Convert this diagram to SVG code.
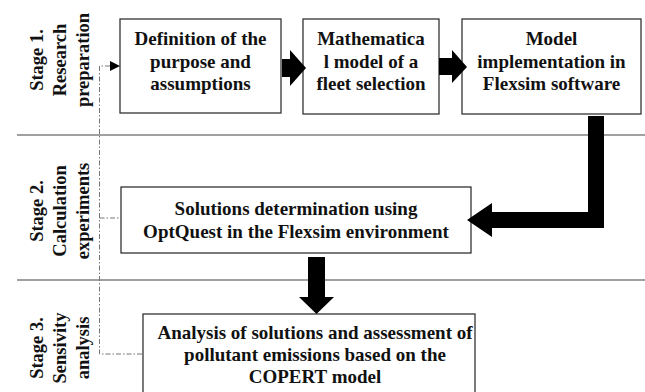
<svg xmlns="http://www.w3.org/2000/svg" width="645" height="392" viewBox="0 0 645 392">
<style>
.box{fill:#fff;stroke:#333;stroke-width:1.3}
.t{font-family:"Liberation Serif","Times New Roman",serif;font-weight:bold;font-size:19px;fill:#111;text-anchor:middle}
.lab{font-size:18.5px}
.sep{stroke:#808080;stroke-width:1.5}
.dash{fill:none;stroke:#777;stroke-width:1;stroke-dasharray:5 2 1.5 2}
.arr{fill:#000}
</style>
<rect width="645" height="392" fill="#fff"/>
<g id="separators">
<line class="sep" x1="17" y1="135" x2="645" y2="135"/>
<line class="sep" x1="17" y1="280" x2="645" y2="280"/>
</g>
<g id="stage1-label" class="t lab">
<text transform="translate(43,60) rotate(-90)">Stage 1.</text>
<text transform="translate(66,60) rotate(-90)">Research</text>
<text transform="translate(89,60) rotate(-90)">preparation</text>
</g>
<g id="stage2-label" class="t lab">
<text transform="translate(43,211) rotate(-90)">Stage 2.</text>
<text transform="translate(66,211) rotate(-90)">Calculation</text>
<text transform="translate(89,211) rotate(-90)">experiments</text>
</g>
<g id="stage3-label" class="t lab">
<text transform="translate(43,348) rotate(-90)">Stage 3.</text>
<text transform="translate(66,348) rotate(-90)">Sensivity</text>
<text transform="translate(89,348) rotate(-90)">analysis</text>
</g>
<g id="node-definition">
<rect class="box" x="120" y="19" width="161" height="94"/>
<text class="t" x="200.5" y="45">Definition of the</text>
<text class="t" x="200.5" y="68">purpose and</text>
<text class="t" x="200.5" y="90">assumptions</text>
</g>
<g id="node-math">
<rect class="box" x="303" y="19" width="136" height="95"/>
<text class="t" x="371" y="45">Mathematica</text>
<text class="t" x="371" y="68">l model of a</text>
<text class="t" x="371" y="90">fleet selection</text>
</g>
<g id="node-flexsim">
<rect class="box" x="462" y="19" width="179" height="95"/>
<text class="t" x="551.5" y="45">Model</text>
<text class="t" x="551.5" y="68">implementation in</text>
<text class="t" x="551.5" y="90">Flexsim software</text>
</g>
<g id="node-optquest">
<rect class="box" x="121" y="187" width="350" height="66"/>
<text class="t" x="296" y="215">Solutions determination using</text>
<text class="t" x="296" y="238">OptQuest in the Flexsim environment</text>
</g>
<g id="node-analysis">
<rect class="box" x="143" y="314" width="332" height="90"/>
<text class="t" x="315" y="339">Analysis of solutions and assessment of</text>
<text class="t" x="315" y="361">pollutant emissions based on the</text>
<text class="t" x="315" y="383">COPERT model</text>
</g>
<g id="connectors">
<polygon class="arr" points="282,59 290,59 290,50 306,68 290,86 290,77 282,77"/>
<polygon class="arr" points="439,58 452,58 452,50 467,67 452,83 452,75 439,75"/>
<polygon class="arr" points="588,116 604,116 604,228 492,228 492,237 467,220 492,203 492,212 588,212"/>
<polygon class="arr" points="308,257 325,257 325,297 334,297 316.5,314 299,297 308,297"/>
<polyline class="dash" points="110,66 99.5,66 99.5,354 143,354"/>
<line class="dash" x1="99.5" y1="218" x2="121" y2="218"/>
<polygon class="arr" points="110,61 120,66 110,71"/>
</g>
</svg>
